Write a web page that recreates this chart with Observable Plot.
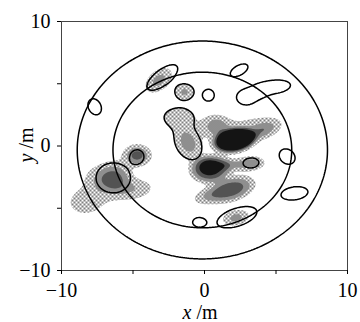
<!DOCTYPE html>
<html><head><meta charset="utf-8">
<script src="https://cdn.jsdelivr.net/npm/d3@7"></script>
<script src="https://cdn.jsdelivr.net/npm/@observablehq/plot@0.6"></script>
<style>body{margin:0;background:#fff}#chart svg{display:block}</style>
</head><body>
<svg width="0" height="0" style="position:absolute">
<defs>
<pattern id="st1" width="4" height="4" patternUnits="userSpaceOnUse">
<rect width="4" height="4" fill="#fff"/>
<rect x="0" y="0" width="1" height="1" fill="#000"/><rect x="2" y="1" width="1" height="1" fill="#000"/>
<rect x="1" y="2" width="1" height="1" fill="#000"/><rect x="3" y="3" width="1" height="1" fill="#000"/>
</pattern>
<pattern id="st2" width="2" height="2" patternUnits="userSpaceOnUse">
<rect width="2" height="2" fill="#fff"/>
<rect x="0" y="0" width="1" height="1" fill="#1e1e1e"/><rect x="1" y="1" width="1" height="1" fill="#1e1e1e"/>
</pattern>
<pattern id="st3" width="2" height="2" patternUnits="userSpaceOnUse">
<rect width="2" height="2" fill="#fff"/>
<rect x="0" y="0" width="1" height="1" fill="#1a1a1a"/><rect x="1" y="0" width="1" height="1" fill="#1a1a1a"/>
<rect x="0" y="1" width="1" height="1" fill="#1a1a1a"/>
</pattern>
</defs>
</svg>
<div id="chart"></div>
<script>
// Stippled (filled) field: blob centres, widths, rotation, amplitude, shape exponent
//               A1    A2    A3    A4    B1a    B1b   B2    B3    C1    C2    D1     D2     E1     P1    F1     G1     G2     G3     G4     H1
const fillX   = [2.1,  4.1,  0.8,  2.8,  0.4,   0.35, 3.25, 1.9,  1.8,  0.0,  -1.8,  -1.15, -1.4,  -3.2, -4.7,  -6.35, -8.2,  -4.9,  -7.6,  2.2];
const fillY   = [0.45, 1.25, 1.6,  1.6,  -1.85, -1.7, -1.4, -1.5, -3.5, -4.1, 2.3,   0.25,  4.35,  5.28, -0.75, -2.6,  -4.4,  -3.5,  -2.6,  -5.76];
const fillSX  = [1.2,  0.85, 0.65, 1.5,  1.15,  0.45, 0.64, 0.7,  1.3,  0.7,  0.85,  0.94,  0.5,   0.8,  0.6,   0.75,  1.0,   1.0,   0.7,   0.65];
const fillSY  = [0.75, 0.45, 0.6,  0.6,  0.9,   0.4,  0.38, 0.35, 0.7,  0.45, 0.62,  0.6,   0.48,  0.5,  0.53,  0.8,   0.8,   0.6,   0.7,   0.42];
const fillAng = [15,   25,   0,    15,   10,    0,    5,    0,    20,   20,   0,     -70,   0,     50,   0,     0,     20,    10,    0,     15];
const fillAmp = [1.7,  0.6,  0.6,  0.25, 0.85,  0.5,  0.6,  0.4,  0.85, 0.3,  0.4,   0.6,   0.5,   0.55, 0.85,  0.85,  0.4,   0.38,  0.25,  0.55];
const fillPow = [2,    1,    1,    1,    2,     1,    1,    1,    1.5,  1,    1,     1,     1,     1,    1,     1,     1,     1,     1,     1];
const fillThresholds = [0.2, 0.45, 0.7, 0.95];
const fillStyles = ["url(#st1)", "url(#st2)", "url(#st3)", "#141414"];

// Outline (line-only) field
const lineX   = [-7.68, -2.95, 0.28, 2.42, 2.9, 4.9, 3.8, 5.78, 6.3, 2.27, -0.39, -1.8, -1.15, -1.4, -4.7, -6.38, 3.25];
const lineY   = [3.15, 5.5, 4.08, 6.08, 3.9, 4.75, 4.35, -0.85, -3.8, -5.72, -6.12, 2.3, 0.25, 4.35, -0.84, -2.56, -1.36];
const lineSX  = [0.56, 1.16, 0.34, 0.6, 0.55, 0.95, 0.5, 0.55, 0.8, 1.25, 0.36, 0.85, 0.94, 0.5, 0.38, 1.02, 0.47];
const lineSY  = [0.38, 0.5, 0.4, 0.32, 0.5, 0.45, 0.35, 0.44, 0.44, 0.6, 0.3, 0.62, 0.6, 0.48, 0.44, 1.02, 0.34];
const lineAng = [-72, 43, 0, 35, 0, 8, 25, -60, 10, 22, 0, 0, -70, 0, 0, 0, 5];
const lineAmp = [0.5, 0.5, 0.5, 0.5, 0.5, 0.5, 0.5, 0.5, 0.5, 0.5, 0.5, 0.5, 0.75, 0.6, 0.5, 0.5, 0.5];
const lineThresholds = [0.25];

// Concentric rings
const ringCenterX = -0.15, ringCenterY = -0.32;
const ringRadii = [6.25, 8.75];

const xTicks = [-10, -5, 0, 5, 10];
const xTickLabels = ["−10", "", "0", "", "10"];
const yTicks = [-10, -5, 0, 5, 10];
const yTickLabels = ["−10", "", "0", "", "10"];

function makeField(X, Y, SX, SY, ANG, AMP, POW) {
  const n = X.length;
  const cs = X.map((_, i) => [Math.cos(ANG[i] * Math.PI / 180), Math.sin(ANG[i] * Math.PI / 180)]);
  return (x, y) => {
    let s = 0;
    for (let i = 0; i < n; i++) {
      const dx = x - X[i], dy = y - Y[i];
      const u = dx * cs[i][0] + dy * cs[i][1];
      const v = -dx * cs[i][1] + dy * cs[i][0];
      const q = u * u / (SX[i] * SX[i]) + v * v / (SY[i] * SY[i]);
      s += AMP[i] * Math.exp(-0.5 * Math.pow(q, POW ? POW[i] : 1));
    }
    return s;
  };
}
const fillField = makeField(fillX, fillY, fillSX, fillSY, fillAng, fillAmp, fillPow);
const lineField = makeField(lineX, lineY, lineSX, lineSY, lineAng, lineAmp, null);
const ringField = (x, y) => -Math.hypot(x - ringCenterX, y - ringCenterY);

const extent = {x1: -10, y1: -10, x2: 10, y2: 10};

const plot = Plot.plot({
  width: 360, height: 322,
  marginLeft: 61, marginRight: 13, marginTop: 21, marginBottom: 52,
  x: {domain: [-10, 10]},
  y: {domain: [-10, 10]},
  style: {fontFamily: "Liberation Serif", fontSize: "20px", color: "black", background: "white"},
  marks: [
    ...fillThresholds.map((t, i) => Plot.contour({...extent, value: fillField, thresholds: [t], fill: fillStyles[i], stroke: "none", pixelSize: 1})),
    Plot.contour({...extent, value: lineField, thresholds: lineThresholds, fill: "none", stroke: "black", strokeWidth: 1.5, pixelSize: 1}),
    Plot.contour({...extent, value: ringField, thresholds: ringRadii.map(r => -r), fill: "none", stroke: "black", strokeWidth: 1.5, pixelSize: 1}),
    Plot.frame({stroke: "#444", strokeWidth: 1}),
    Plot.axisX({ticks: xTicks, tickFormat: d => xTickLabels[xTicks.indexOf(d)], tickSize: 4, tickPadding: 8, label: null}),
    Plot.axisY({ticks: yTicks, tickFormat: d => yTickLabels[yTicks.indexOf(d)], tickSize: 4, tickPadding: 7, label: null})
  ]
});
document.getElementById("chart").appendChild(plot);

const svg = d3.select(plot);
const xl = svg.append("text").attr("x", 200).attr("y", 319).attr("text-anchor", "middle")
  .attr("font-family", "Liberation Serif").attr("font-size", 20).attr("fill", "black");
xl.append("tspan").attr("font-style", "italic").text("x");
xl.append("tspan").text(" /m");
const yl = svg.append("text").attr("transform", "translate(33,145) rotate(-90)").attr("text-anchor", "middle")
  .attr("font-family", "Liberation Serif").attr("font-size", 20).attr("fill", "black");
yl.append("tspan").attr("font-style", "italic").text("y");
yl.append("tspan").text(" /m");
</script>
</body></html>
